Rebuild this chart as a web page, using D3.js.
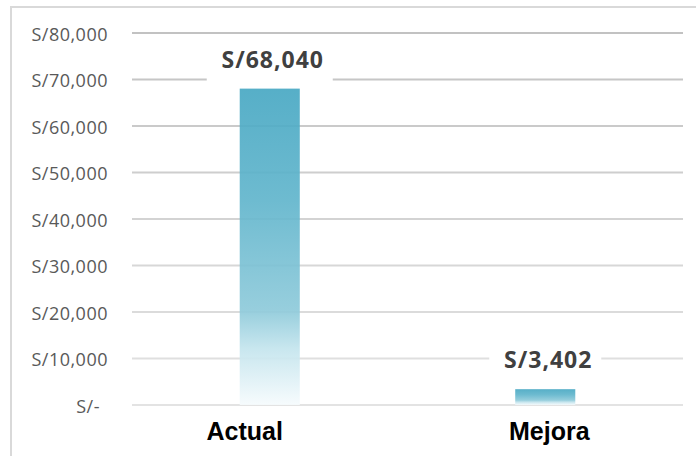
<!DOCTYPE html>
<html>
<head>
<meta charset="utf-8">
<script src="https://cdn.jsdelivr.net/npm/d3@7.9.0/dist/d3.min.js"></script>
<style>
  body { margin: 0; background: #fff; }
  svg { display: block; }
</style>
</head>
<body>
<svg id="chart" width="696" height="456"></svg>
<script>
// data
const categories = ['Actual', 'Mejora'];
const values = [68040, 3402];
const valueLabels = ['S/68,040', 'S/3,402'];
const yTicks = [0, 10000, 20000, 30000, 40000, 50000, 60000, 70000, 80000];
const yTickLabels = ['S/-', 'S/10,000', 'S/20,000', 'S/30,000', 'S/40,000', 'S/50,000', 'S/60,000', 'S/70,000', 'S/80,000'];

const svg = d3.select('#chart');
const plotLeft = 132, plotRight = 683, plotTop = 33, plotBottom = 405;

let y = d3.scaleLinear().domain([0, 80000]).range([plotBottom, plotTop]);
let x = d3.scaleBand().domain(categories).range([plotLeft, plotRight])
    .paddingInner(0.782).paddingOuter(0.391);

// outer frame
svg.append('rect')
   .attr('x', 11).attr('y', 7)
   .attr('width', 720).attr('height', 480)
   .attr('fill', 'none')
   .attr('stroke', '#d9d9d9')
   .attr('stroke-width', 2);

// gradient for the bars
let defs = svg.append('defs');
let grad = defs.append('linearGradient')
    .attr('id', 'barGrad')
    .attr('x1', 0).attr('y1', 0).attr('x2', 0).attr('y2', 1);
[[0, '#48a8c3'], [0.35, '#61b5cc'], [0.7, '#8ecada'], [0.82, '#c3e4ed'], [1, '#f6fbfd']]
    .forEach(([o, c]) => grad.append('stop').attr('offset', o).attr('stop-color', c));

// gridlines, darker at top
let gridColor = d3.scaleLinear().domain([0, 80000]).range(['#e3e3e3', '#c2c2c2']);
svg.append('g').selectAll('line')
   .data(yTicks)
   .join('line')
   .attr('x1', plotLeft).attr('x2', plotRight)
   .attr('y1', d => y(d)).attr('y2', d => y(d))
   .attr('stroke', d => gridColor(d))
   .attr('stroke-width', 2);

// y tick labels
svg.append('g').selectAll('text')
   .data(yTicks)
   .join('text')
   .attr('x', d => d === 0 ? 100 : 108)
   .attr('y', d => y(d))
   .attr('dy', '0.42em')
   .attr('text-anchor', 'end')
   .attr('font-family', 'Open Sans')
   .attr('font-size', 18)
   .attr('letter-spacing', 0.5)
   .attr('fill', '#595959')
   .text((d, i) => yTickLabels[i]);

// bars
svg.append('g').selectAll('rect')
   .data(values)
   .join('rect')
   .attr('x', (d, i) => x(categories[i]))
   .attr('y', d => y(d))
   .attr('width', x.bandwidth())
   .attr('height', d => y(0) - y(d))
   .attr('fill', 'url(#barGrad)')
   .attr('fill-opacity', 0.92);

// value labels with white backing
let labels = svg.append('g').selectAll('g')
   .data(values)
   .join('g')
   .attr('transform', (d, i) => `translate(${x(categories[i]) + x.bandwidth() / 2},${y(d) - 21})`);

labels.append('rect')
   .attr('x', (d, i) => i === 0 ? -63 : -56)
   .attr('width', (d, i) => i === 0 ? 126 : 112)
   .attr('y', -22)
   .attr('height', (d, i) => i === 0 ? 36 : 16)
   .attr('fill', '#fff');

labels.append('text')
   .attr('text-anchor', 'middle')
   .attr('x', 3)
   .attr('font-family', 'Open Sans')
   .attr('font-weight', 'bold')
   .attr('font-size', 23)
   .attr('letter-spacing', 1)
   .attr('fill', '#404040')
   .text((d, i) => valueLabels[i]);

// category labels (Excel places them a bit off the bar centres)
svg.append('g').selectAll('text')
   .data(categories)
   .join('text')
   .attr('x', d => x(d) + x.bandwidth() / 2)
   .attr('dx', (d, i) => i === 0 ? -25 : 4)
   .attr('y', 440)
   .attr('text-anchor', 'middle')
   .attr('font-family', 'Liberation Sans, Arial')
   .attr('font-weight', 'bold')
   .attr('font-size', 25)
   .attr('fill', '#000')
   .text(d => d);
</script>
</body>
</html>
